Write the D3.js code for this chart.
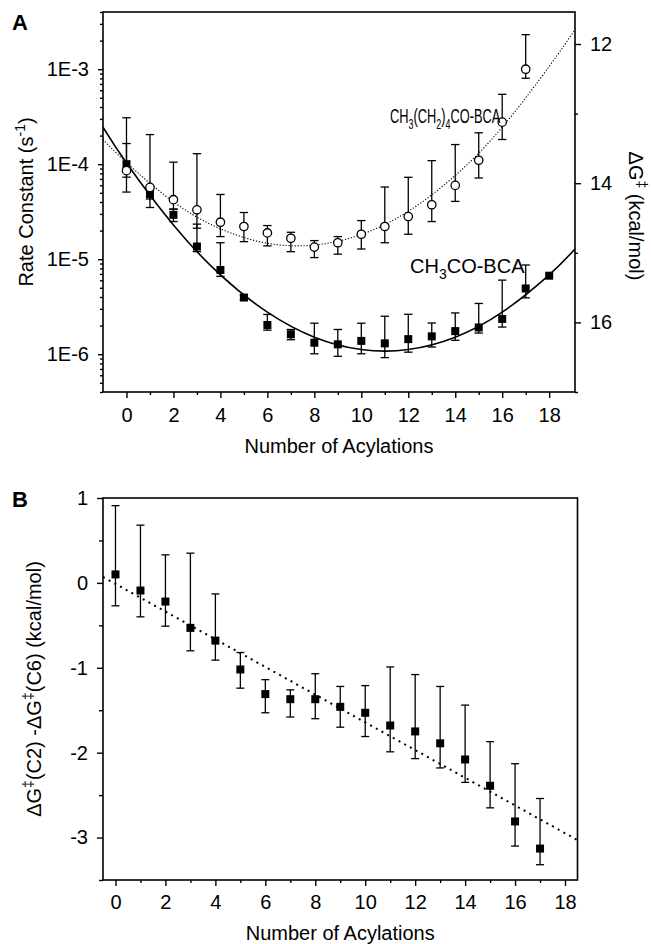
<!DOCTYPE html>
<html>
<head>
<meta charset="utf-8">
<script src="https://cdnjs.cloudflare.com/ajax/libs/d3/7.8.5/d3.min.js"></script>
<style>
  html, body { margin: 0; padding: 0; background: #fff; }
  svg { display: block; font-family: "Liberation Sans", Arial, Helvetica, sans-serif; }
  .tick text { font-size: 20px; fill: #000; }
  .tick line { stroke: #000; stroke-width: 1.4px; }
  .domain { display: none; }
  .frame { fill: none; stroke: #000; stroke-width: 1.6px; }
  .err { stroke: #000; stroke-width: 1.3px; fill: none; }
  .lbl { font-size: 20px; fill: #000; }
</style>
</head>
<body>
<div id="chart"></div>
<script>
// ---- Panel A: rate constants vs number of acylations ----
const N_C2 = [0, 1, 2, 3, 4, 5, 6, 7, 8, 9, 10, 11, 12, 13, 14, 15, 16, 17, 18];
const K_C2 = [1.0e-4, 4.85e-5, 2.93e-5, 1.36e-5, 7.7e-6, 3.95e-6, 2.03e-6, 1.62e-6, 1.32e-6, 1.27e-6,
              1.38e-6, 1.30e-6, 1.44e-6, 1.54e-6, 1.75e-6, 1.91e-6, 2.35e-6, 4.92e-6, 6.70e-6];
const K_C2_LO = [7.3e-5, 4.3e-5, 2.49e-5, 1.2e-5, 6.6e-6, 3.7e-6, 1.79e-6, 1.42e-6, 1.01e-6, 9.5e-7,
                 1.01e-6, 9.2e-7, 1.05e-6, 1.19e-6, 1.40e-6, 1.67e-6, 1.93e-6, 3.92e-6, null];
const K_C2_HI = [1.65e-4, 5.5e-5, 3.36e-5, 2.34e-5, 1.49e-5, 4.2e-6, 2.62e-6, 1.82e-6, 2.12e-6, 1.82e-6,
                 2.12e-6, 2.51e-6, 2.63e-6, 2.13e-6, 2.72e-6, 3.42e-6, 6.02e-6, 8.69e-6, null];

const N_C6 = [0, 1, 2, 3, 4, 5, 6, 7, 8, 9, 10, 11, 12, 13, 14, 15, 16, 17];
const K_C6 = [8.55e-5, 5.7e-5, 4.23e-5, 3.31e-5, 2.45e-5, 2.21e-5, 1.89e-5, 1.66e-5, 1.34e-5, 1.49e-5,
              1.83e-5, 2.21e-5, 2.81e-5, 3.74e-5, 5.98e-5, 1.10e-4, 2.77e-4, 1.0e-3];
const K_C6_LO = [5.09e-5, 3.5e-5, 3.37e-5, 2.12e-5, 1.73e-5, 1.53e-5, 1.38e-5, 1.2e-5, 1.04e-5, 1.13e-5,
                 1.28e-5, 1.49e-5, 1.83e-5, 2.49e-5, 4.06e-5, 7.16e-5, 1.82e-4, 8.03e-4];
const K_C6_HI = [3.08e-4, 2.05e-4, 1.05e-4, 1.29e-4, 4.8e-5, 3.1e-5, 2.26e-5, 1.92e-5, 1.57e-5, 1.73e-5,
                 2.55e-5, 5.75e-5, 7.28e-5, 1.09e-4, 1.61e-4, 2.14e-4, 5.44e-4, 2.31e-3];

// fitted curves
const FIT_C2_N = [-1, 0, 2, 4, 6, 8, 10, 12, 14, 16, 18, 19.1];
const FIT_C2_K = [2.45e-4, 1.03e-4, 2.29e-5, 6.84e-6, 2.77e-6, 1.51e-6, 1.12e-6, 1.12e-6, 1.51e-6, 2.77e-6, 6.84e-6, 1.28e-5];
const FIT_C6_N = [-1, 0, 2, 4, 6, 8, 10, 12, 14, 16, 18, 19.1];
const FIT_C6_K = [1.82e-4, 1.04e-4, 4.01e-5, 2.09e-5, 1.47e-5, 1.41e-5, 1.82e-5, 3.19e-5, 7.6e-5, 2.45e-4, 1.07e-3, 2.6e-3];

const K_TICKS = [1e-6, 1e-5, 1e-4, 1e-3];
const K_TICK_LABELS = ['1E-6', '1E-5', '1E-4', '1E-3'];
const DG_TICKS = [12, 14, 16];
const DG_MINOR = [13, 15, 17];
const X_TICKS = [0, 2, 4, 6, 8, 10, 12, 14, 16, 18];
const X_MINOR = [1, 3, 5, 7, 9, 11, 13, 15, 17];

// ---- Panel B: difference in activation free energy ----
const N_B = [0, 1, 2, 3, 4, 5, 6, 7, 8, 9, 10, 11, 12, 13, 14, 15, 16, 17];
const DDG = [0.10, -0.09, -0.22, -0.53, -0.68, -1.02, -1.31, -1.37, -1.37, -1.46,
             -1.53, -1.68, -1.75, -1.89, -2.08, -2.39, -2.81, -3.13];
const DDG_LO = [-0.27, -0.40, -0.51, -0.80, -0.91, -1.24, -1.53, -1.58, -1.60, -1.70,
                -1.81, -1.99, -2.07, -2.18, -2.35, -2.65, -3.10, -3.32];
const DDG_HI = [0.91, 0.68, 0.33, 0.35, -0.13, -0.82, -1.14, -1.26, -1.07, -1.22,
                -1.21, -0.99, -1.08, -1.22, -1.44, -1.87, -2.13, -2.54];
const FIT_B_N = [-0.5, 18.5];
const FIT_B = [0.07, -3.03];
const DDG_TICKS = [1, 0, -1, -2, -3];
const DDG_MINOR = [0.5, -0.5, -1.5, -2.5, -3.5];

const W = 651, H = 944;
const A = { left: 103, right: 575, top: 12, bottom: 392 };
const B = { left: 103, right: 577.5, top: 498, bottom: 880 };

const svg = d3.select('#chart').append('svg')
  .attr('width', W).attr('height', H);

// plain hyphen for negatives, as in the figure
const intFmt = d => String(d);

function errorBars(g, xs, los, his, x, y, cap) {
  xs.forEach((n, i) => {
    if (los[i] == null || his[i] == null) return;
    const cx = x(n), y0 = y(los[i]), y1 = y(his[i]);
    g.append('line').attr('class', 'err').attr('x1', cx).attr('x2', cx).attr('y1', y0).attr('y2', y1);
    g.append('line').attr('class', 'err').attr('x1', cx - cap).attr('x2', cx + cap).attr('y1', y0).attr('y2', y0);
    g.append('line').attr('class', 'err').attr('x1', cx - cap).attr('x2', cx + cap).attr('y1', y1).attr('y2', y1);
  });
}

function squares(g, xs, vs, x, y, s) {
  g.selectAll(null).data(xs).join('rect')
    .attr('x', (n) => x(n) - s / 2)
    .attr('y', (n, i) => y(vs[i]) - s / 2)
    .attr('width', s).attr('height', s)
    .attr('fill', '#000');
}

// text with subscript pieces: parts = [[text, isSub], ...]
function subText(sel, parts, subSize) {
  let shifted = false;
  parts.forEach(([t, sub]) => {
    const ts = sel.append('tspan').text(t);
    if (sub && !shifted) { ts.attr('font-size', subSize).attr('dy', 6); shifted = true; }
    else if (!sub && shifted) { ts.attr('dy', -6); shifted = false; }
    else if (sub) ts.attr('font-size', subSize);
  });
  return sel;
}

// ================= Panel A =================
const xA = d3.scaleLinear().domain([-1, 19.1]).range([A.left, A.right]);
const yA = d3.scaleLog().domain([4e-7, 4e-3]).range([A.bottom, A.top]);
const yDG = d3.scaleLinear().domain([11.54, 17.0]).range([A.top, A.bottom]);

const gA = svg.append('g');

// minor log ticks (2..9 in each decade)
const kMinor = [];
[1e-7, 1e-6, 1e-5, 1e-4, 1e-3].forEach(d => {
  for (let m = 2; m <= 9; m++) {
    const v = m * d;
    if (v >= 4e-7 && v <= 4.01e-3) kMinor.push(v);
  }
});

gA.append('g').attr('class', 'axis')
  .attr('transform', `translate(${A.left},0)`)
  .call(d3.axisLeft(yA).tickValues(kMinor).tickSize(3).tickFormat(''));
gA.append('g').attr('class', 'axis')
  .attr('transform', `translate(${A.left},0)`)
  .call(d3.axisLeft(yA).tickValues(K_TICKS).tickSize(5).tickPadding(9)
    .tickFormat((d, i) => K_TICK_LABELS[i]));

gA.append('g').attr('class', 'axis')
  .attr('transform', `translate(${A.right},0)`)
  .call(d3.axisRight(yDG).tickValues(DG_MINOR).tickSize(3).tickFormat(''));
gA.append('g').attr('class', 'axis')
  .attr('transform', `translate(${A.right},0)`)
  .call(d3.axisRight(yDG).tickValues(DG_TICKS).tickSize(6).tickPadding(9).tickFormat(intFmt));

gA.append('g').attr('class', 'axis')
  .attr('transform', `translate(0,${A.bottom})`)
  .call(d3.axisBottom(xA).tickValues(X_MINOR).tickSize(3).tickFormat(''));
gA.append('g').attr('class', 'axis')
  .attr('transform', `translate(0,${A.bottom})`)
  .call(d3.axisBottom(xA).tickValues(X_TICKS).tickSize(6).tickPadding(10).tickFormat(intFmt));

gA.append('rect').attr('class', 'frame')
  .attr('x', A.left).attr('y', A.top)
  .attr('width', A.right - A.left).attr('height', A.bottom - A.top);

svg.append('clipPath').attr('id', 'clipA').append('rect')
  .attr('x', A.left).attr('y', A.top).attr('width', A.right - A.left).attr('height', A.bottom - A.top);

const lineA = d3.line().curve(d3.curveNatural);
gA.append('path')
  .attr('clip-path', 'url(#clipA)')
  .attr('d', lineA(FIT_C2_N.map((n, i) => [xA(n), yA(FIT_C2_K[i])])))
  .attr('fill', 'none').attr('stroke', '#000').attr('stroke-width', 1.6);
gA.append('path')
  .attr('clip-path', 'url(#clipA)')
  .attr('d', lineA(FIT_C6_N.map((n, i) => [xA(n), yA(FIT_C6_K[i])])))
  .attr('fill', 'none').attr('stroke', '#000').attr('stroke-width', 1.1)
  .attr('stroke-dasharray', '1.2,1.8');

errorBars(gA, N_C6, K_C6_LO, K_C6_HI, xA, yA, 4.2);
errorBars(gA, N_C2, K_C2_LO, K_C2_HI, xA, yA, 4.2);

squares(gA, N_C2, K_C2, xA, yA, 8);
gA.selectAll('circle').data(N_C6).join('circle')
  .attr('cx', n => xA(n))
  .attr('cy', (n, i) => yA(K_C6[i]))
  .attr('r', 4.2)
  .attr('fill', '#fff').attr('stroke', '#000').attr('stroke-width', 1.3);

// series labels (the long one is set condensed in the figure)
const t1 = gA.append('g').attr('transform', 'translate(390,123) scale(0.64,1)')
  .append('text').attr('class', 'lbl');
subText(t1, [['CH', 0], ['3', 1], ['(CH', 0], ['2', 1], [')', 0], ['4', 1], ['CO-BCA', 0]], 14);

const t2 = gA.append('text').attr('class', 'lbl').attr('x', 410).attr('y', 273);
subText(t2, [['CH', 0], ['3', 1], ['CO-BCA', 0]], 14);

// axis titles
gA.append('text').attr('class', 'lbl')
  .attr('x', (A.left + A.right) / 2).attr('y', 453)
  .attr('text-anchor', 'middle').text('Number of Acylations');

const yt = gA.append('text').attr('class', 'lbl')
  .attr('transform', `translate(33,${(A.top + A.bottom) / 2}) rotate(-90)`)
  .attr('text-anchor', 'middle');
yt.append('tspan').text('Rate Constant (s');
yt.append('tspan').attr('font-size', 14).attr('dy', -8).text('-1');
yt.append('tspan').attr('dy', 8).text(')');

const rt = gA.append('text').attr('class', 'lbl')
  .attr('transform', `translate(629,216) rotate(90)`)
  .attr('text-anchor', 'middle');
rt.append('tspan').text('\u0394G');
rt.append('tspan').attr('font-size', 14).attr('dy', -8).text('\u2021');
rt.append('tspan').attr('dy', 8).text(' (kcal/mol)');

svg.append('text').attr('x', 12).attr('y', 30)
  .attr('font-size', 22).attr('font-weight', 'bold').text('A');

// ================= Panel B =================
const xB = d3.scaleLinear().domain([-0.5, 18.5]).range([B.left, B.right]);
const yB = d3.scaleLinear().domain([-3.5, 1]).range([B.bottom, B.top]);
const gB = svg.append('g');

gB.append('g').attr('class', 'axis')
  .attr('transform', `translate(${B.left},0)`)
  .call(d3.axisLeft(yB).tickValues(DDG_MINOR).tickSize(4).tickFormat(''));
gB.append('g').attr('class', 'axis')
  .attr('transform', `translate(${B.left},0)`)
  .call(d3.axisLeft(yB).tickValues(DDG_TICKS).tickSize(6).tickPadding(9).tickFormat(intFmt));

gB.append('g').attr('class', 'axis')
  .attr('transform', `translate(0,${B.bottom})`)
  .call(d3.axisBottom(xB).tickValues(X_MINOR).tickSize(3).tickFormat(''));
gB.append('g').attr('class', 'axis')
  .attr('transform', `translate(0,${B.bottom})`)
  .call(d3.axisBottom(xB).tickValues(X_TICKS).tickSize(6).tickPadding(9).tickFormat(intFmt));

gB.append('rect').attr('class', 'frame')
  .attr('x', B.left).attr('y', B.top)
  .attr('width', B.right - B.left).attr('height', B.bottom - B.top);

gB.append('path')
  .attr('d', d3.line()(FIT_B_N.map((n, i) => [xB(n), yB(FIT_B[i])])))
  .attr('fill', 'none').attr('stroke', '#000').attr('stroke-width', 2)
  .attr('stroke-dasharray', '2,4.5');

errorBars(gB, N_B, DDG_LO, DDG_HI, xB, yB, 4);
squares(gB, N_B, DDG, xB, yB, 8);

gB.append('text').attr('class', 'lbl')
  .attr('x', (B.left + B.right) / 2).attr('y', 940)
  .attr('text-anchor', 'middle').text('Number of Acylations');

const bt = gB.append('text').attr('class', 'lbl')
  .attr('transform', `translate(41,${(B.top + B.bottom) / 2}) rotate(-90)`)
  .attr('text-anchor', 'middle');
bt.append('tspan').text('\u0394G');
bt.append('tspan').attr('font-size', 14).attr('dy', -8).text('\u2021');
bt.append('tspan').attr('dy', 8).text('(C2) -\u0394G');
bt.append('tspan').attr('font-size', 14).attr('dy', -8).text('\u2021');
bt.append('tspan').attr('dy', 8).text('(C6) (kcal/mol)');

svg.append('text').attr('x', 12).attr('y', 507)
  .attr('font-size', 22).attr('font-weight', 'bold').text('B');
</script>
</body>
</html>
